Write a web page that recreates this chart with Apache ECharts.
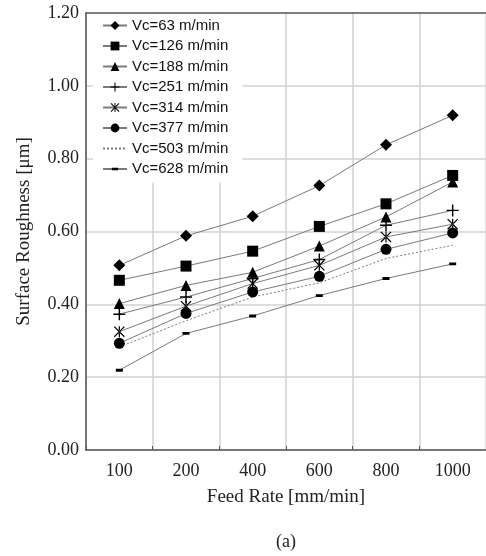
<!DOCTYPE html>
<html>
<head>
<meta charset="utf-8">
<script src="https://cdn.jsdelivr.net/npm/echarts@6/dist/echarts.min.js"></script>
<style>html,body{margin:0;padding:0;background:#fff}#c{width:486px;height:556px}</style>
</head>
<body>
<div id="c"></div>
<script>
var categories = ['100', '200', '400', '600', '800', '1000'];
var seriesNames = ['Vc=63 m/min', 'Vc=126 m/min', 'Vc=188 m/min', 'Vc=251 m/min', 'Vc=314 m/min', 'Vc=377 m/min', 'Vc=503 m/min', 'Vc=628 m/min'];
var vc63  = [0.507, 0.588, 0.642, 0.726, 0.838, 0.919];
var vc126 = [0.466, 0.505, 0.546, 0.614, 0.676, 0.754];
var vc188 = [0.402, 0.452, 0.488, 0.560, 0.640, 0.736];
var vc251 = [0.373, 0.420, 0.471, 0.523, 0.617, 0.658];
var vc314 = [0.325, 0.395, 0.457, 0.507, 0.585, 0.620];
var vc377 = [0.293, 0.375, 0.434, 0.477, 0.551, 0.596];
var vc503 = [0.283, 0.355, 0.420, 0.459, 0.526, 0.562];
var vc628 = [0.219, 0.320, 0.368, 0.424, 0.471, 0.511];
var yTicks = [0, 0.2, 0.4, 0.6, 0.8, 1.0, 1.2];

var plusPath = 'path://M0,4.4 H10 V5.6 H0 Z M4.4,0 H5.6 V10 H4.4 Z';
var starPath = 'path://M0,0.8 L0.8,0 L10,9.2 L9.2,10 Z M10,0.8 L9.2,0 L0,9.2 L0.8,10 Z M4.45,0 H5.55 V10 H4.45 Z';
var dashPath = 'path://M0,0 L0.01,0 Z M10,10 L9.99,10 Z M1.5,3.6 H8.5 V6.4 H1.5 Z';
var blankPath = 'path://M0,0 L0.01,0 Z M10,10 L9.99,10 Z';

var allData = [vc63, vc126, vc188, vc251, vc314, vc377, vc503, vc628];
var symbols = ['diamond', 'rect', 'triangle', plusPath, starPath, 'circle', blankPath, dashPath];
var sizes = [12, 11, 11, 12, 11, 11, 1, 10];

var series = allData.map(function (d, i) {
  return {
    name: seriesNames[i],
    type: 'line',
    data: d,
    symbol: symbols[i],
    symbolSize: sizes[i],
    showSymbol: i !== 6,
    lineStyle: { color: '#7a7a7a', width: 1, type: i === 6 ? [2, 2] : 'solid' },
    itemStyle: { color: '#000' },
    emphasis: { disabled: true },
    animation: false
  };
});

var chart = echarts.init(document.getElementById('c'), null, { renderer: 'canvas' });
chart.setOption({
  backgroundColor: '#fff',
  animation: false,
  title: {
    text: '(a)', left: 271, top: 528,
    textStyle: { fontFamily: 'Liberation Serif', fontSize: 18, fontWeight: 'normal', color: '#222' }
  },
  grid: { left: 86, right: 0, top: 13, bottom: 106, containLabel: false },
  legend: {
    orient: 'vertical', left: 93, top: 14,
    padding: [4, 14, 6, 9],
    backgroundColor: '#fff',
    itemWidth: 24, itemHeight: 11, itemGap: 5.5,
    textStyle: { fontFamily: 'Liberation Sans', fontSize: 15, color: '#111', lineHeight: 15 },
    data: seriesNames
  },
  xAxis: [{
    type: 'category',
    data: categories,
    boundaryGap: true,
    name: 'Feed Rate [mm/min]',
    nameLocation: 'middle',
    nameGap: 38,
    nameTextStyle: { fontFamily: 'Liberation Serif', fontSize: 19, color: '#222' },
    axisLine: { lineStyle: { color: '#555', width: 1.5 } },
    axisTick: { show: true, inside: true, length: 4, lineStyle: { color: '#555' } },
    axisLabel: { fontFamily: 'Liberation Serif', fontSize: 18, color: '#222', margin: 12 },
    splitLine: { show: true, interval: 0, lineStyle: { color: '#d2d2d2', width: 1.5 } }
  }, {
    type: 'category',
    data: categories,
    position: 'top',
    axisLine: { lineStyle: { color: '#555', width: 1.5 } },
    axisTick: { show: false },
    axisLabel: { show: false },
    splitLine: { show: false }
  }],
  yAxis: {
    type: 'value',
    min: yTicks[0], max: yTicks[yTicks.length - 1], interval: 0.2,
    name: 'Surface Roughness [μm]',
    nameLocation: 'middle',
    nameGap: 52,
    nameTextStyle: { fontFamily: 'Liberation Serif', fontSize: 19, color: '#222' },
    axisLine: { show: true, lineStyle: { color: '#555', width: 1.5 } },
    axisTick: { show: false },
    axisLabel: { fontFamily: 'Liberation Serif', fontSize: 18, color: '#222', margin: 7,
      formatter: function (v) { return v.toFixed(2); } },
    splitLine: { show: true, showMaxLine: false, lineStyle: { color: '#d2d2d2', width: 1.5 } }
  },
  series: series
});
</script>
</body>
</html>
